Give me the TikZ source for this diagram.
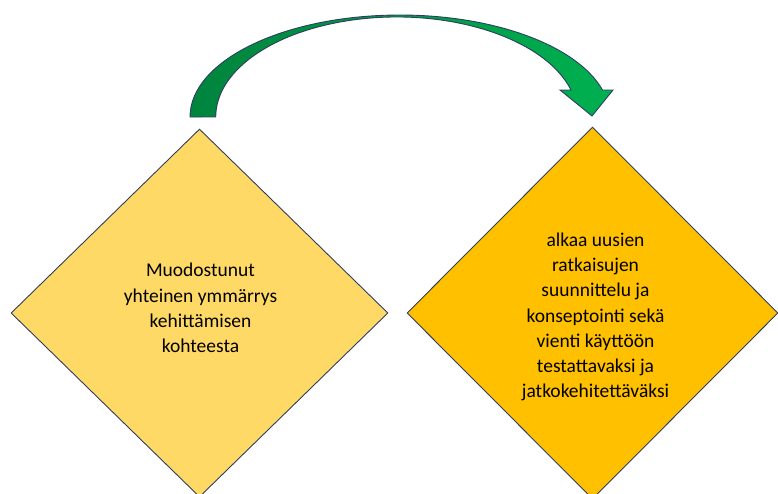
\documentclass[tikz,border=0pt]{standalone}
\usepackage{fontspec}
\setmainfont{Carlito}
\usetikzlibrary{shapes.geometric}

\definecolor{boxline}{RGB}{47,62,96}
\definecolor{lightgold}{RGB}{255,217,102}
\definecolor{gold}{RGB}{255,192,0}
\definecolor{arrowdark}{RGB}{0,132,61}
\definecolor{arrowlight}{RGB}{0,176,80}

\tikzset{
  stagebox/.style={diamond, draw=boxline, line width=0.9pt, inner sep=0pt,
    minimum width=377pt, minimum height=368pt},
  stagetext/.style={align=center, inner sep=0pt,
    font=\fontsize{19.5}{25.2}\selectfont}
}

\begin{document}
\begin{tikzpicture}[x=1pt, y=1pt]
    \clip (0,0) rectangle (778,-493);

    % Stages
    \node[stagebox, fill=lightgold] (understanding) at (199.5,-313) {};
    \node[stagebox, fill=gold, minimum width=371pt, minimum height=372pt] (design) at (592.5,-313) {};

    % Stage texts
    \node[stagetext] (understandingtext) at ([xshift=1pt, yshift=5pt]understanding.center)
        {Muodostunut\\yhteinen ymmärrys\\kehittämisen\\kohteesta};
    \node[stagetext] (designtext) at ([xshift=3pt, yshift=-4pt]design.center)
        {alkaa uusien\\ratkaisujen\\suunnittelu ja\\konseptointi sekä\\vienti käyttöön\\testattavaksi ja\\jatkokehitettäväksi};

    % Curved block arrow
    \draw[boxline, line width=0.9pt, left color=arrowdark, right color=arrowlight]
        (190,-117) arc[start angle=180, end angle=15.35, x radius=210, y radius=102]
        -- (613,-90) -- (592,-116) -- (560,-90) -- (571,-90)
        arc[start angle=15.66, end angle=180, x radius=181, y radius=100]
        -- cycle;
\end{tikzpicture}
\end{document}
